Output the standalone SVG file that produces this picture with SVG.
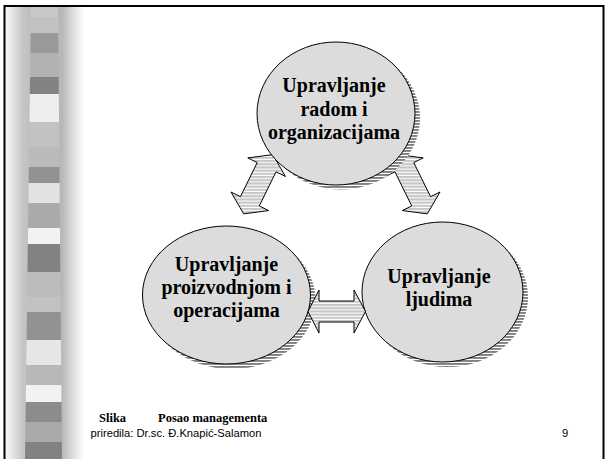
<svg xmlns="http://www.w3.org/2000/svg" width="608" height="459" viewBox="0 0 608 459">
  <defs>
    <linearGradient id="stripBg" x1="6" y1="0" x2="84" y2="0" gradientUnits="userSpaceOnUse">
      <stop offset="0" stop-color="#f6f6f6"/>
      <stop offset="0.22" stop-color="#c6c6c6"/>
      <stop offset="0.4" stop-color="#b6b6b6"/>
      <stop offset="0.72" stop-color="#b8b8b8"/>
      <stop offset="0.86" stop-color="#dedede"/>
      <stop offset="1" stop-color="#ffffff"/>
    </linearGradient>
    <clipPath id="stripClip">
      <polygon points="31,7 58,7 62,459 25,459"/>
    </clipPath>
    <pattern id="arrowFill" width="6" height="3.2" patternUnits="userSpaceOnUse">
      <rect width="6" height="3.2" fill="#ffffff"/>
      <rect width="6" height="2.1" fill="#c6c6c6"/>
    </pattern>
    <pattern id="shadowFill" width="6" height="3" patternUnits="userSpaceOnUse">
      <rect width="6" height="3" fill="#ffffff"/>
      <rect width="6" height="1.9" fill="#808080"/>
    </pattern>
    <style>
      .circle { fill: #dcdcdc; stroke: #000; stroke-width: 1; }
      .shadow { fill: url(#shadowFill); stroke: none; }
      .arrow { fill: url(#arrowFill); stroke: #000; stroke-width: 1; stroke-linejoin: miter; }
      .label { font-family: "Liberation Serif", "Times New Roman", serif; font-weight: bold; font-size: 20px; fill: #000; text-anchor: middle; }
      .cap { font-family: "Liberation Serif", "Times New Roman", serif; font-weight: bold; font-size: 12.5px; fill: #000; }
      .foot { font-family: "Liberation Sans", Arial, sans-serif; font-size: 11.2px; fill: #000; }
    </style>
  </defs>

  <rect x="0" y="0" width="608" height="459" fill="#ffffff"/>

  <!-- decorative left strip -->
  <g id="strip">
    <rect x="6" y="7" width="78" height="452" fill="url(#stripBg)"/>
    <g clip-path="url(#stripClip)">
      <rect x="20" y="7" width="50" height="10" fill="#c8c8c8"/>
      <rect x="20" y="17" width="50" height="16" fill="#c2c2c2"/>
      <rect x="20" y="33" width="50" height="20" fill="#999999"/>
      <rect x="20" y="53" width="50" height="24" fill="#b2b2b2"/>
      <rect x="20" y="77" width="50" height="17" fill="#828282"/>
      <rect x="20" y="94" width="50" height="28" fill="#eeeeee"/>
      <rect x="20" y="122" width="50" height="25" fill="#c2c2c2"/>
      <rect x="20" y="147" width="50" height="20" fill="#bababa"/>
      <rect x="20" y="167" width="50" height="16" fill="#929292"/>
      <rect x="20" y="183" width="50" height="20" fill="#e2e2e2"/>
      <rect x="20" y="203" width="50" height="25" fill="#aaaaaa"/>
      <rect x="20" y="228" width="50" height="16" fill="#f2f2f2"/>
      <rect x="20" y="244" width="50" height="28" fill="#828282"/>
      <rect x="20" y="272" width="50" height="25" fill="#bcbcbc"/>
      <rect x="20" y="297" width="50" height="15" fill="#c2c2c2"/>
      <rect x="20" y="312" width="50" height="28" fill="#929292"/>
      <rect x="20" y="340" width="50" height="25" fill="#e6e6e6"/>
      <rect x="20" y="365" width="50" height="20" fill="#b8b8b8"/>
      <rect x="20" y="385" width="50" height="17" fill="#f2f2f2"/>
      <rect x="20" y="402" width="50" height="20" fill="#8c8c8c"/>
      <rect x="20" y="422" width="50" height="20" fill="#aaaaaa"/>
      <rect x="20" y="442" width="50" height="17" fill="#828282"/>
    </g>
  </g>

  <!-- frame -->
  <rect x="4.5" y="6" width="599" height="462" fill="none" stroke="#000" stroke-width="2"/>

  <!-- connectors (diagonal ones lie beneath the circles) -->
  <g id="connectors">
    <polygon class="arrow" points="272.82,154.64 285.48,176.47 276.06,171.84 259.28,205.94 268.70,210.57 243.68,213.86 231.02,192.03 240.44,196.66 257.22,162.56 247.80,157.93"/>
    <polygon class="arrow" points="398.18,154.64 385.52,176.47 394.94,171.84 411.72,205.94 402.30,210.57 427.32,213.86 439.98,192.03 430.56,196.66 413.78,162.56 423.20,157.93"/>
  </g>

  <!-- nodes -->
  <g id="node-rad">
    <ellipse class="shadow" cx="341" cy="118" rx="79" ry="71.5"/>
    <ellipse class="circle" cx="336" cy="113.5" rx="79" ry="71.5"/>
    <text class="label" x="334" y="92">Upravljanje</text>
    <text class="label" x="334" y="116">radom i</text>
    <text class="label" x="334" y="139">organizacijama</text>
  </g>

  <g id="node-proizvodnja">
    <ellipse class="shadow" cx="231.5" cy="300" rx="84" ry="69"/>
    <ellipse class="circle" cx="226.5" cy="295" rx="84" ry="69"/>
    <text class="label" x="226.5" y="271">Upravljanje</text>
    <text class="label" x="226.5" y="294">proizvodnjom i</text>
    <text class="label" x="226.5" y="317">operacijama</text>
  </g>

  <g id="node-ljudi">
    <ellipse class="shadow" cx="447.5" cy="297" rx="80.5" ry="70"/>
    <ellipse class="circle" cx="442.5" cy="292" rx="80.5" ry="70"/>
    <text class="label" x="439" y="283">Upravljanje</text>
    <text class="label" x="439" y="306">ljudima</text>
  </g>

  <!-- horizontal connector drawn over the shadow of the left circle -->
  <g id="connector-horizontal">
    <polygon class="arrow" points="308,311.5 319,290 319,301 354,301 354,290 365.5,311.5 354,333 354,322 319,322 319,333"/>
  </g>

  <!-- footer -->
  <g id="footer">
    <text class="cap" x="99" y="422">Slika</text>
    <text class="cap" x="158" y="422">Posao managementa</text>
    <text class="foot" x="90.5" y="437">priredila: Dr.sc. Đ.Knapić-Salamon</text>
    <text class="foot" x="562" y="437">9</text>
  </g>
</svg>
